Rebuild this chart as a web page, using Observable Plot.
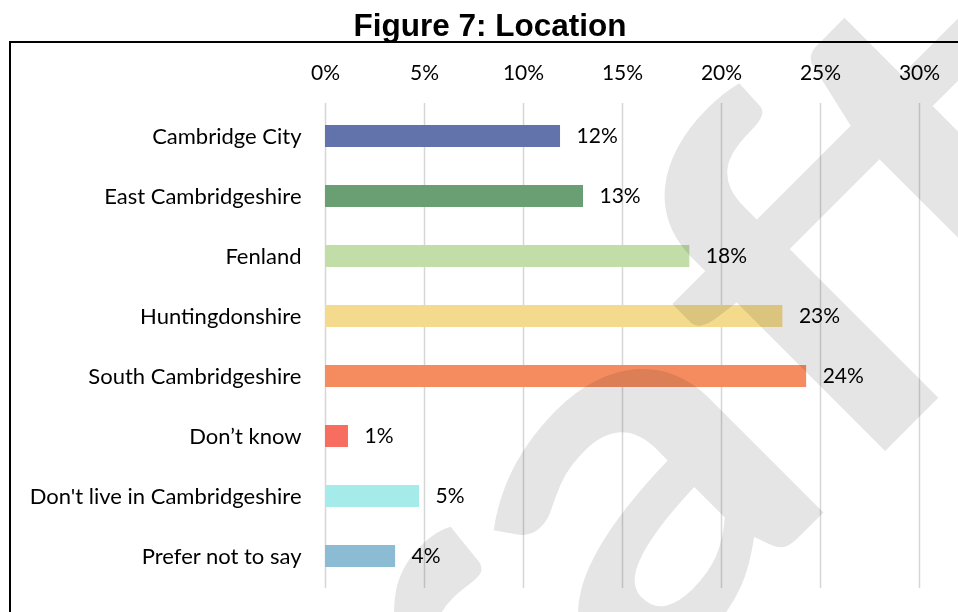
<!DOCTYPE html>
<html>
<head>
<meta charset="utf-8">
<script src="https://cdn.jsdelivr.net/npm/d3@7"></script>
<script src="https://cdn.jsdelivr.net/npm/@observablehq/plot@0.6"></script>
<style>
  html, body { margin: 0; padding: 0; background: #fff; }
  #page { position: relative; width: 958px; height: 612px; overflow: hidden; background: #fff; isolation: isolate; }
  #title { position: absolute; left: 0; top: 5px; width: 980px; text-align: center;
           font: bold 31.5px "Liberation Sans", Arial, sans-serif; line-height: 40px; color: #000; }
  #box { position: absolute; left: 9px; top: 41px; width: 1000px; height: 700px;
         border-left: 2px solid #000; border-top: 2px solid #000; box-sizing: border-box; }
  #chart { position: absolute; left: 0; top: 40px; }
  #wm { position: absolute; left: 0; top: 0; pointer-events: none; mix-blend-mode: multiply; }
</style>
</head>
<body>
<div id="page">
  <div id="title">Figure 7: Location</div>
  <div id="box"></div>
  <div id="chart"></div>
  <svg id="wm" width="958" height="612"></svg>
</div>
<script>
const categories = ["Cambridge City", "East Cambridgeshire", "Fenland", "Huntingdonshire",
  "South Cambridgeshire", "Don\u2019t know", "Don't live in Cambridgeshire", "Prefer not to say"];
const values = [11.87, 13.03, 18.4, 23.1, 24.3, 1.16, 4.75, 3.54];
const colors = ["#6272ab", "#6a9e73", "#c3dda9", "#f3da8c", "#f58c60", "#f76d5f", "#a5ebea", "#8bbcd4"];
const xTicks = [0, 5, 10, 15, 20, 25, 30];

const data = categories.map((c, i) => ({category: c, value: values[i]}));
const font = "Lato, 'Open Sans', sans-serif";

const chart = Plot.plot({
  width: 958,
  height: 572,
  marginLeft: 325,
  marginRight: 39,
  marginTop: 63,
  marginBottom: 24,
  style: {fontFamily: font, fontSize: "21px", color: "#000", background: "transparent", overflow: "visible"},
  x: {domain: [0, 30]},
  y: {domain: categories, paddingInner: 0.64, paddingOuter: 0.32},
  color: {domain: categories, range: colors},
  marks: [
    Plot.gridX(xTicks, {stroke: "#d6d6d6", strokeOpacity: 1, strokeWidth: 1.5}),
    Plot.axisX({anchor: "top", ticks: xTicks, tickFormat: d => d + "%", tickSize: 0, tickPadding: 24,
                label: null, fontSize: 21, fill: "#000"}),
    Plot.axisY({tickSize: 0, tickPadding: 24, label: null, fontSize: 22, fill: "#000"}),
    Plot.barX(data, {x: "value", y: "category", fill: "category"}),
    Plot.text(data, {x: "value", y: "category", text: d => Math.round(d.value) + "%",
                     textAnchor: "start", dx: 16, fontSize: 21, fill: "#000"})
  ]
});
document.getElementById("chart").appendChild(chart);

// "Draft" watermark overlay (stretched, multiplied over the chart)
const wm = d3.select("#wm");
const wt = wm.append("text")
  .attr("font-family", font)
  .attr("font-weight", 700)
  .attr("font-size", 500)
  .attr("fill", "#e5e5e5")
  .text("Draft");
const node = wt.node();
const ea = node.getExtentOfChar(2), et = node.getExtentOfChar(4);
const xa = ea.x + ea.width / 2, xt = et.x + et.width / 2;
const sx = 475 / (xt - xa);
const c = Math.SQRT1_2;
const Tx = 736 - c * sx * xa, Ty = 600 + c * sx * xa;
wt.attr("transform", `translate(${Tx},${Ty}) rotate(-45) scale(${sx},1)`);
</script>
</body>
</html>
